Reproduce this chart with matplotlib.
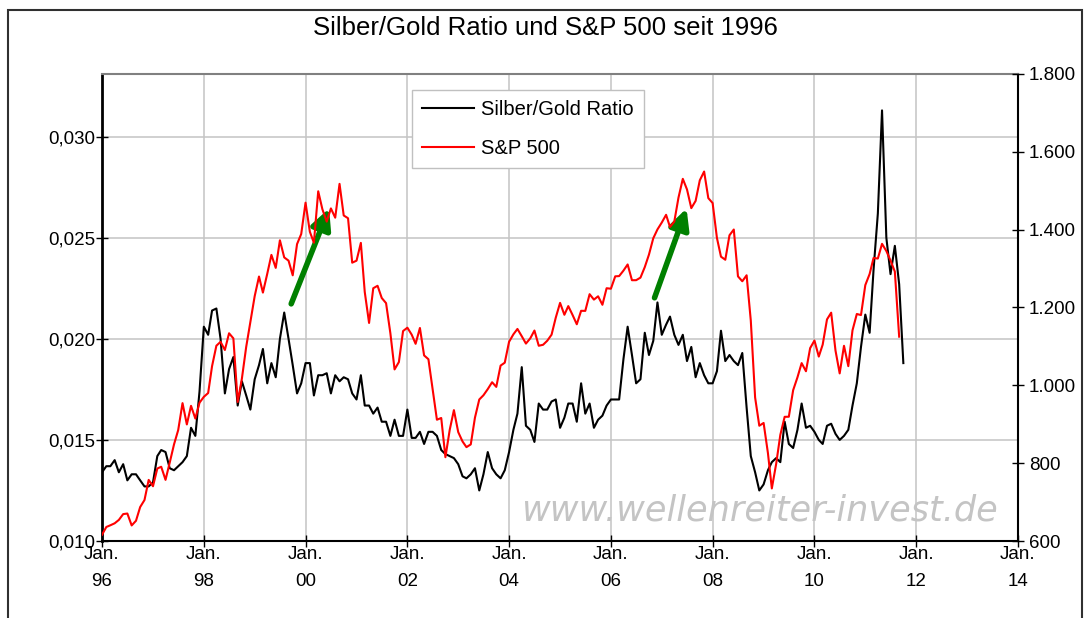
import matplotlib
matplotlib.use("Agg")
import matplotlib.pyplot as plt
from matplotlib.patches import Rectangle
import pandas as pd

# monthly values, first point = Jan 1996
silver_gold = [
    0.0134, 0.0137, 0.0137, 0.0140, 0.0134, 0.0138, 0.0130, 0.0133, 0.0133, 0.0130, 0.0127, 0.0127,
    0.0129, 0.0142, 0.0145, 0.0144, 0.0136, 0.0135, 0.0137, 0.0139, 0.0142, 0.0156, 0.0152, 0.0174,
    0.0206, 0.0202, 0.0214, 0.0215, 0.0200, 0.0173, 0.0185, 0.0191, 0.0167, 0.0179, 0.0172, 0.0165,
    0.0180, 0.0187, 0.0195, 0.0178, 0.0188, 0.0181, 0.0200, 0.0213, 0.0200, 0.0187, 0.0173, 0.0178,
    0.0188, 0.0188, 0.0172, 0.0182, 0.0182, 0.0183, 0.0173, 0.0182, 0.0179, 0.0181, 0.0180, 0.0173,
    0.0170, 0.0182, 0.0167, 0.0167, 0.0163, 0.0166, 0.0159, 0.0159, 0.0152, 0.0160, 0.0152, 0.0152,
    0.0165, 0.0151, 0.0151, 0.0154, 0.0148, 0.0154, 0.0154, 0.0152, 0.0145, 0.0143, 0.0142, 0.0141,
    0.0138, 0.0132, 0.0131, 0.0133, 0.0136, 0.0125, 0.0133, 0.0144, 0.0136, 0.0133, 0.0131, 0.0135,
    0.0144, 0.0155, 0.0163, 0.0186, 0.0157, 0.0155, 0.0149, 0.0168, 0.0165, 0.0165, 0.0169, 0.0170,
    0.0156, 0.0161, 0.0168, 0.0168, 0.0159, 0.0178, 0.0163, 0.0168, 0.0156, 0.0160, 0.0162, 0.0167,
    0.0170, 0.0170, 0.0170, 0.0190, 0.0206, 0.0192, 0.0178, 0.0180, 0.0203, 0.0192, 0.0199, 0.0218,
    0.0202, 0.0207, 0.0211, 0.0202, 0.0197, 0.0202, 0.0189, 0.0196, 0.0181, 0.0188, 0.0182, 0.0178,
    0.0178, 0.0184, 0.0204, 0.0189, 0.0192, 0.0189, 0.0187, 0.0193, 0.0166, 0.0142, 0.0134, 0.0125,
    0.0128, 0.0135, 0.0139, 0.0141, 0.0139, 0.0159, 0.0148, 0.0146, 0.0155, 0.0168, 0.0156, 0.0157,
    0.0154, 0.0150, 0.0148, 0.0157, 0.0158, 0.0153, 0.0150, 0.0152, 0.0155, 0.0167, 0.0178, 0.0196,
    0.0212, 0.0203, 0.0234, 0.0262, 0.0313, 0.0250, 0.0232, 0.0246, 0.0227, 0.0188,
]

sp500 = [
    615.9, 636.0, 640.4, 645.5, 654.2, 669.1, 670.6, 640.0, 652.0, 687.3, 705.3, 757.0,
    740.7, 786.2, 790.8, 757.1, 801.3, 848.3, 885.1, 954.3, 899.5, 947.3, 914.6, 955.4,
    970.4, 980.3, 1049.3, 1101.8, 1111.8, 1090.8, 1133.8, 1120.7, 957.3, 1017.0, 1098.7, 1163.6,
    1229.2, 1279.6, 1238.3, 1286.4, 1335.2, 1301.8, 1372.7, 1328.7, 1320.4, 1282.7, 1362.9, 1388.9,
    1469.3, 1394.5, 1366.4, 1498.6, 1452.4, 1420.6, 1454.6, 1430.8, 1517.7, 1436.5, 1429.4, 1315.2,
    1320.3, 1366.0, 1239.9, 1160.3, 1249.5, 1255.8, 1224.4, 1211.2, 1133.6, 1040.9, 1059.8, 1139.5,
    1148.1, 1130.2, 1106.7, 1147.4, 1076.9, 1067.1, 989.8, 911.6, 916.1, 815.3, 885.8, 936.3,
    879.8, 855.7, 841.2, 848.2, 916.9, 963.6, 974.5, 990.3, 1008.0, 996.0, 1050.7, 1058.2,
    1111.9, 1131.1, 1144.9, 1126.2, 1107.3, 1120.7, 1140.8, 1101.7, 1104.2, 1114.6, 1130.2, 1173.8,
    1211.9, 1181.3, 1203.6, 1180.6, 1156.9, 1191.5, 1191.3, 1234.2, 1220.3, 1228.8, 1207.0, 1249.5,
    1248.3, 1280.1, 1280.7, 1294.8, 1310.6, 1270.1, 1270.2, 1276.7, 1303.8, 1335.9, 1377.9, 1400.6,
    1418.3, 1438.2, 1406.8, 1420.9, 1482.4, 1530.6, 1503.4, 1455.3, 1474.0, 1526.8, 1549.4, 1481.1,
    1468.4, 1378.6, 1330.6, 1322.7, 1385.6, 1400.4, 1280.0, 1267.4, 1282.8, 1166.4, 968.8, 896.2,
    903.3, 825.9, 735.1, 797.9, 872.8, 919.1, 919.3, 987.5, 1020.6, 1057.1, 1036.2, 1095.6,
    1115.1, 1073.9, 1104.5, 1169.4, 1186.7, 1089.4, 1030.7, 1101.6, 1049.3, 1141.2, 1183.3, 1180.6,
    1257.6, 1286.1, 1327.2, 1325.8, 1363.6, 1345.2, 1320.6, 1292.3, 1125.0,
]

months = pd.date_range("1996-01-01", periods=len(silver_gold), freq="MS")
sp_months = months[:len(sp500)]

tick_years = list(range(1996, 2015, 2))
left_ticks = [0.010, 0.015, 0.020, 0.025, 0.030]
right_ticks = [600, 800, 1000, 1200, 1400, 1600, 1800]

# green arrows (tail, head) in date / left-axis units
arrows = [
    (("1999-09-20", 0.02173), ("2000-06-18", 0.02645)),
    (("2006-11-10", 0.02203), ("2007-06-28", 0.02645)),
]

plt.rcParams['font.family'] = ['Liberation Sans', 'DejaVu Sans']

W, H = 1088, 618
fig = plt.figure(figsize=(W / 100, H / 100), dpi=100)
ax = fig.add_axes([102 / W, 1 - 541 / H, 916 / W, 467 / H])
ax2 = ax.twinx()

# outer chart frame
fig.add_artist(Rectangle((8 / W, -0.1), (1082 - 8) / W, 1.1 - 10 / H,
                         transform=fig.transFigure, fill=False, ec='#303030', lw=1.5))

fig.text(0.5015, 1 - 28 / H, "Silber/Gold Ratio und S&P 500 seit 1996",
         ha='center', va='center', fontsize=18.5)

l1, = ax.plot(months, silver_gold, color='black', lw=1.5, zorder=3)
l2, = ax2.plot(sp_months, sp500, color='red', lw=1.5, zorder=3)

ax.set_xlim(pd.Timestamp("1996-01-01"), pd.Timestamp("2014-01-01"))
ax.set_ylim(0.010, 0.0331)
ax2.set_ylim(600, 1800)

xt = [pd.Timestamp(f"{y}-01-01") for y in tick_years]
ax.set_xticks(xt, [f"Jan.\n{y % 100:02d}" for y in tick_years])
for lbl in ax.get_xticklabels():
    lbl.set_linespacing(1.8)
ax.set_yticks(left_ticks, [f"{v:.3f}".replace('.', ',') for v in left_ticks])
ax2.set_yticks(right_ticks, [f"{v:,}".replace(',', '.') for v in right_ticks])

ax.tick_params(axis='both', direction='inout', length=8, width=1, labelsize=13.5)
ax.tick_params(axis='x', pad=-0.5)
ax.tick_params(axis='y', pad=1)
ax2.tick_params(axis='y', direction='inout', length=8, width=1, labelsize=13.5, pad=4)

ax.grid(True, color='#c4c4c4', lw=1.1)
ax.set_axisbelow(True)

for s in ['top', 'bottom', 'left', 'right']:
    ax2.spines[s].set_visible(False)
ax.spines['left'].set_linewidth(2)
ax.spines['bottom'].set_linewidth(1.5)
ax.spines['top'].set_color('#808080')
ax.spines['top'].set_linewidth(1.5)
ax.spines['right'].set_linewidth(1.5)

ax.text(0.718, 0.066, "www.wellenreiter-invest.de", transform=ax.transAxes,
        ha='center', va='center', color='#c4c4c4', fontsize=25.3, style='italic',
        family='DejaVu Sans', zorder=1)

for (t0, v0), (t1, v1) in arrows:
    ax.annotate('', xy=(pd.Timestamp(t1), v1), xytext=(pd.Timestamp(t0), v0),
                arrowprops=dict(arrowstyle='-|>,head_length=0.8,head_width=0.4',
                                color='#008000', lw=4, mutation_scale=15,
                                shrinkA=0, shrinkB=0), zorder=5)

leg = ax2.legend([l1, l2], ["Silber/Gold Ratio", "S&P 500"],
                 loc='upper left', bbox_to_anchor=(412 / W, 1 - 90 / H),
                 bbox_transform=fig.transFigure, fontsize=14.5, frameon=True,
                 fancybox=False, edgecolor='#c0c0c0', framealpha=1,
                 handlelength=2.6, handletextpad=0.35, labelspacing=1.0,
                 borderpad=0.5, borderaxespad=0)
leg.get_frame().set_linewidth(1)

fig.savefig("out.png", dpi=100)
